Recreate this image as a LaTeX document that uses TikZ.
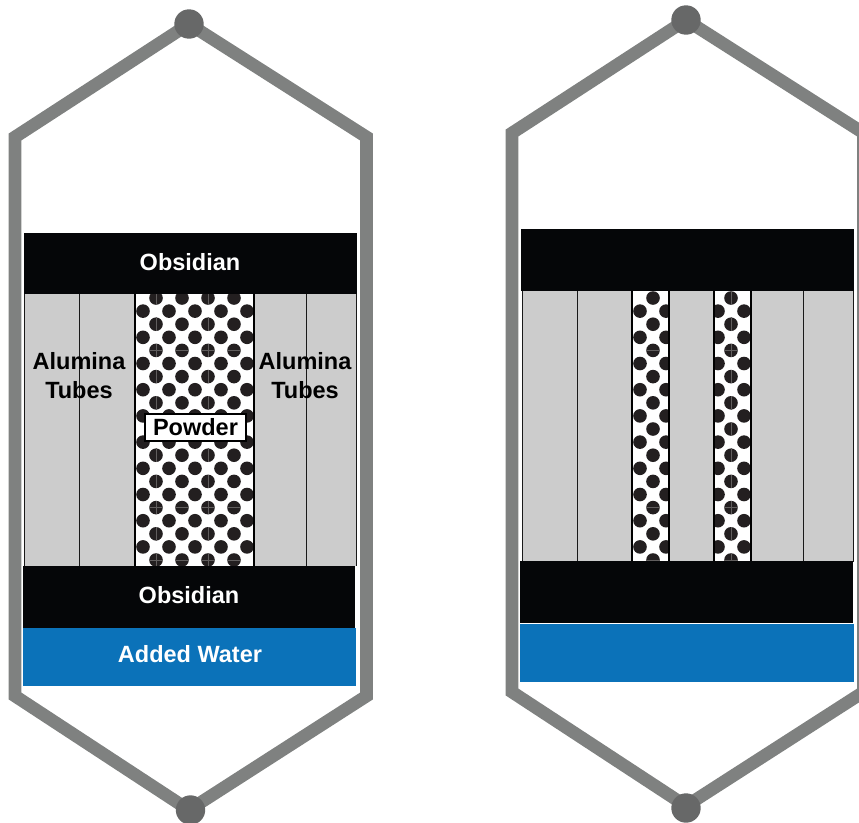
\documentclass[tikz,border=0pt]{standalone}
\usepackage{fontspec}
\setmainfont{Liberation Sans}
\definecolor{shell}{HTML}{7F8180}
\definecolor{knob}{HTML}{676868}
\definecolor{tube}{HTML}{CCCCCC}
\definecolor{rock}{HTML}{050608}
\definecolor{water}{HTML}{0B72B9}
\definecolor{grain}{HTML}{231F20}
\tikzset{
  shellline/.style={draw=shell,line width=12.7pt,line join=miter},
  tubeline/.style={draw=black!90,line width=1pt},
  hairline/.style={draw=white!28!grain,line width=0.4pt},
  lbl/.style={font=\fontsize{23.5}{26}\selectfont\bfseries,inner sep=0pt},
  whitelbl/.style={lbl,text=white}
}
% one strip of powder: left, right, top, bottom, first x, first y, columns with a vertical hair
\newcommand{\powderstrip}[7]{
  \fill[white] (#1,#3) rectangle (#2,#4);
  \begin{scope}
    \clip (#1,#3) rectangle (#2,#4);
    \foreach \k in {0,...,10}{
      \foreach \i in {0,...,4}{
        \fill[grain] ({#5+26*\i},{#6+26.2*\k}) circle (6.8);
        \fill[grain] ({#5-13+26*\i},{#6+13.1+26.2*\k}) circle (6.8);
      }
      \foreach \i in {#7}{
        \draw[hairline] ({#5+26*\i},{#6+26.2*\k-6.8}) -- ({#5+26*\i},{#6+26.2*\k+6.8});
      }
    }
    \foreach \k in {2,8,10}{
      \foreach \i in {0,...,4}{
        \draw[hairline] ({#5+26*\i-6.8},{#6+26.2*\k}) -- ({#5+26*\i+6.8},{#6+26.2*\k});
      }
    }
  \end{scope}
  \draw[black,line width=1.2pt] (#1,#3) -- (#1,#4) (#2,#3) -- (#2,#4);
}
\begin{document}
\begin{tikzpicture}[x=1pt,y=-1pt]
\useasboundingbox (0,0) rectangle (859,822);

% Left capsule
\draw[shellline] (15,696) -- (15,137) -- (189,24) -- (366.5,137) -- (366.5,696) -- (189,810) -- cycle;
\fill[knob] (189,24) circle (14.7);
\fill[knob] (190.5,810) circle (14.7);

% Left tubes
\fill[tube] (24,294) rectangle (356,566);
\foreach \x in {24,79,135,254,306,356}{
  \draw[tubeline] (\x,294) -- (\x,566);
}
\powderstrip{135}{254}{294}{566}{156}{298}{0,2}

% Left layers
\fill[rock] (24,233) rectangle (357,294);
\fill[rock] (23,566) rectangle (355,628);
\fill[water] (23,628) rectangle (356,686);

% Left labels
\node[whitelbl] (topobsidian) at (190,262) {Obsidian};
\node[whitelbl] (lowobsidian) at (189,595) {Obsidian};
\node[whitelbl] (addedwater) at (190,654) {Added Water};
\node[lbl] (aluminaleft) at (79,361) {Alumina};
\node[lbl] (tubesleft) at (79,390) {Tubes};
\node[lbl] (aluminaright) at (305,361) {Alumina};
\node[lbl] (tubesright) at (305,390) {Tubes};
\node[lbl,fill=white,draw=black,line width=1.3pt,minimum width=101pt,minimum height=27pt] (powder) at (195.5,427.5) {Powder};

% Right capsule
\draw[shellline] (512,692) -- (512,133) -- (686,20) -- (863.5,133) -- (863.5,692) -- (686,806) -- cycle;
\fill[knob] (686,20) circle (14.7);
\fill[knob] (686,808) circle (14.7);

% Right tubes
\fill[tube] (522,290) rectangle (853,562);
\foreach \x in {522,577,632,669,714,751,803,853}{
  \draw[tubeline] (\x,290) -- (\x,562);
}
\powderstrip{632}{669}{290}{562}{653}{298}{9}
\powderstrip{714}{751}{290}{562}{731}{298}{0}

% Right layers
\fill[rock] (521,229) rectangle (854,291);
\fill[rock] (520,561) rectangle (853,623);
\fill[water] (520,624) rectangle (854,682);

\end{tikzpicture}
\end{document}
